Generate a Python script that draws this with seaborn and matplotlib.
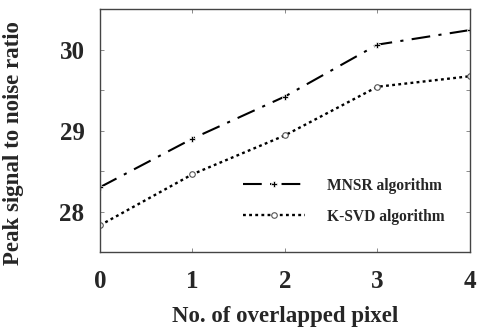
"""   PSNR versus number of overlapped pixels for two algorithms   """
import matplotlib
matplotlib.use('Agg')
import matplotlib.pyplot as plt
from matplotlib.ticker import MultipleLocator
import seaborn as sns

# ~~~~~~~  Data  ~~~~~~~ #
overlap = [0, 1, 2, 3, 4]
mnsr_psnr = [28.30, 28.90, 29.42, 30.06, 30.24]
ksvd_psnr = [27.83, 28.46, 28.94, 29.54, 29.67]
series_names = ['MNSR algorithm', 'K-SVD algorithm']

sns.set_style('ticks')
plt.rcParams['font.family'] = ['Liberation Serif', 'DejaVu Serif']
plt.rcParams['font.weight'] = 'bold'

fig = plt.figure(figsize=(4.78, 3.33), dpi=100)
axes = fig.add_axes([0.209, 0.243, 0.774, 0.730])

# dash-dot line with small plus markers, dotted line with small open circles
sns.lineplot(x=overlap, y=mnsr_psnr, ax=axes, color='black', linewidth=1.5,
             marker='P', markersize=4, markeredgewidth=0.5,
             label=series_names[0])
axes.lines[-1].set_dashes([9, 4, 1.5, 4])
sns.lineplot(x=overlap, y=ksvd_psnr, ax=axes, color='black', linewidth=1.7,
             marker='o', markersize=4, markerfacecolor='white',
             markeredgecolor='#555555', markeredgewidth=0.8,
             label=series_names[1])
axes.lines[-1].set_dashes([1.2, 1.4])

axes.set_xlim(0, 4)
axes.set_ylim(27.5, 30.5)
axes.xaxis.set_major_locator(MultipleLocator(1))
axes.yaxis.set_major_locator(MultipleLocator(1))
axes.yaxis.set_minor_locator(MultipleLocator(0.5))
axes.tick_params(which='both', direction='in', top=True, right=True,
                 length=3, width=0.6, color='#777777', labelsize=18)
axes.tick_params(axis='x', pad=13)
axes.tick_params(axis='y', pad=11)
for spine in axes.spines.values():
    spine.set_linewidth(1.0)
    spine.set_color('#444444')

axes.set_xlabel('No. of overlapped pixel', fontsize=16.5, fontweight='bold', labelpad=9)
axes.set_ylabel('Peak signal to noise ratio', fontsize=16.5, fontweight='bold')
axes.yaxis.set_label_coords(-0.205, 0.45)  # label sits a bit below centre

legend = axes.legend(loc='lower right', bbox_to_anchor=(0.97, 0.055), frameon=False,
                     fontsize=11.2, handlelength=4.0, handletextpad=1.4,
                     labelspacing=0.95)
for text in legend.get_texts():
    text.set_fontweight('bold')

fig.savefig('out.png', dpi=100)
